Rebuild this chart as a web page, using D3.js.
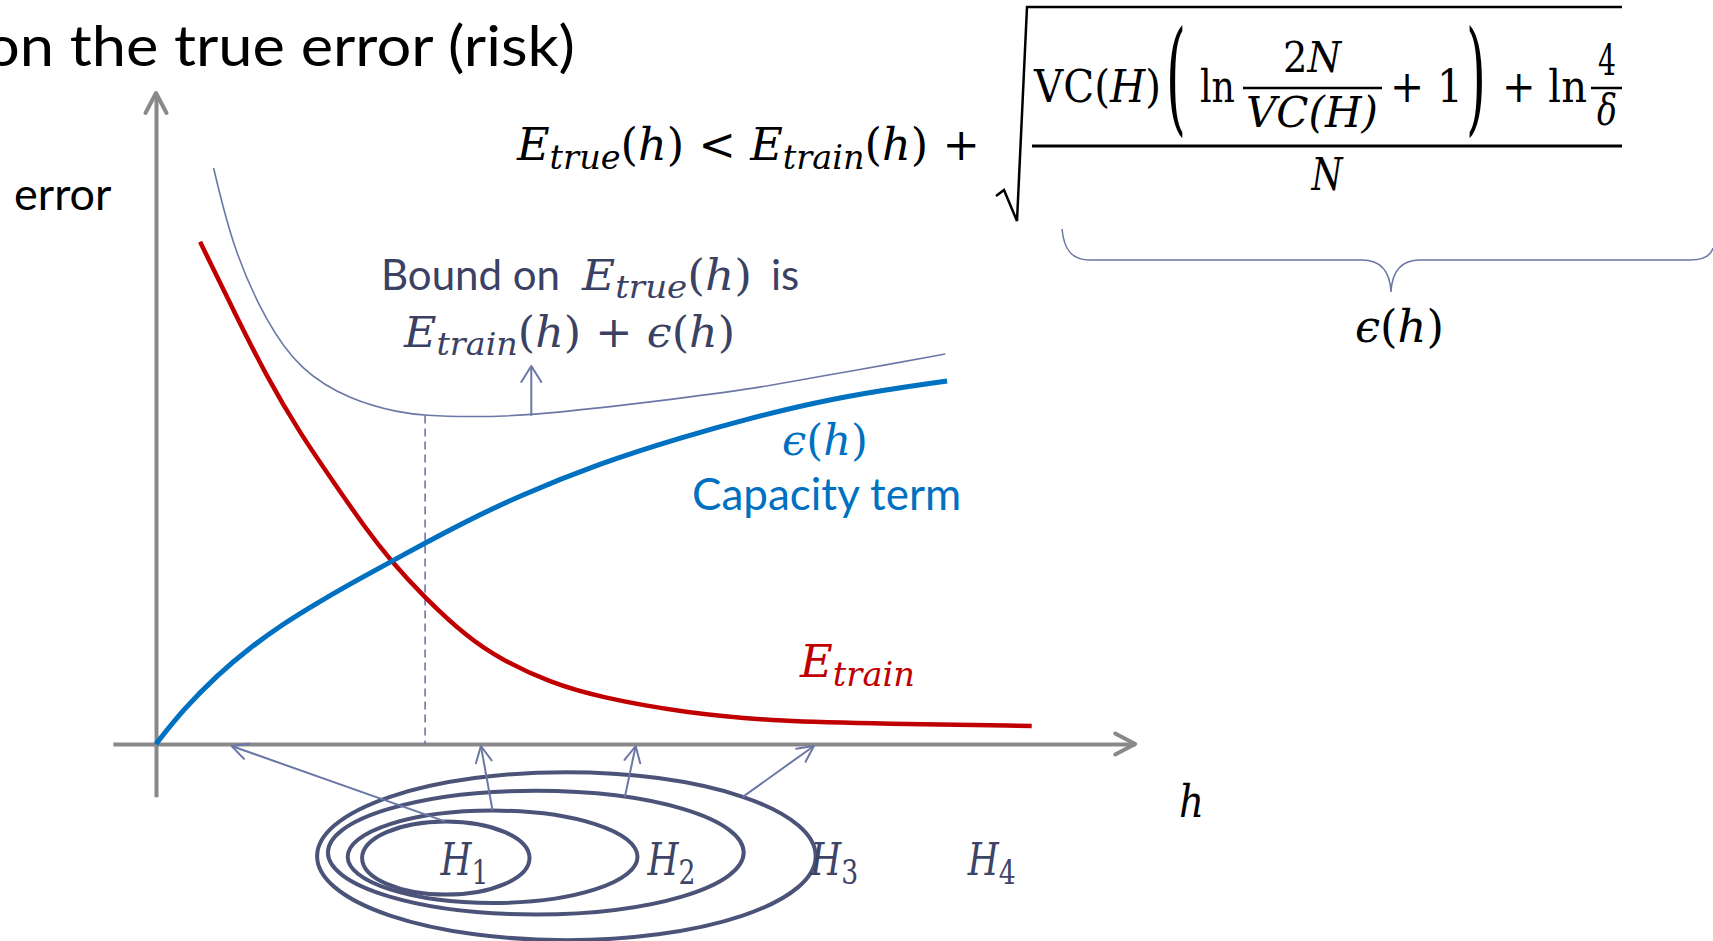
<!DOCTYPE html>
<html>
<head>
<meta charset="utf-8">
<script src="https://cdn.jsdelivr.net/npm/d3@7"></script>
<style>
  body { margin: 0; background: #fff; overflow: hidden; }
</style>
</head>
<body>
<div id="chart"></div>
<script>
'use strict';

// curves: [h, error]
const capacity = [[0, 0], [3, 5.7], [6.8, 11.5], [10.4, 16], [14.1, 20], [17.9, 23.5], [21.6, 26.7], [26, 30.3],
    [29.9, 33.5], [34.6, 37.2], [40.1, 41.2], [49.3, 46.8], [58.6, 51.2], [66, 54.3], [73.4, 57], [80.8, 59], [87.9, 60.5]];
const trainErr = [[4.9, 83.7], [8.6, 72.3], [12.3, 61.2], [16, 51.8], [19.7, 43.7], [23.4, 35.7], [26, 30.7], [29.9, 24.3],
    [34.6, 17.8], [38.2, 14.2], [43.8, 10.2], [49.3, 7.8], [58.6, 5.2], [69.7, 3.7], [80.8, 3.4], [97.3, 3]];
const bound = [[6.4, 96], [8.6, 82.3], [12.3, 70.2], [16, 62.3], [21.6, 57.3], [27.1, 55.2], [29.9, 54.75], [34.6, 54.5],
    [41.6, 54.7], [53.8, 56.8], [58.6, 57.7], [67.6, 59.5], [73.4, 61.2], [76.8, 62], [87.7, 65]];
const bestH = 29.9;
const boundArrowH = 41.7;
const boundArrowTip = 63;

// nested hypothesis sets H1 ⊂ H2 ⊂ H3 ⊂ H4 drawn under the h axis
const hypNames = ['1', '2', '3', '4'];
const hypCx = [32.2, 37.4, 42.2, 45.6];
const hypCy = [-19, -18.8, -18.1, -18.7];
const hypRx = [9.3, 16.1, 23.1, 27.7];
const hypRy = [6.1, 7.7, 10.3, 14];
const hypLabelH = [31.6, 54.6, 72.7, 90.2];
const hypLabelErr = -21.8;
const hypArrowFrom = [32.1, 37.4, 52.1, 65.2];
const hypArrowTo = [8.4, 36.1, 53.3, 73.1];

const W = 1713, H = 941;
const SANS = 'Lato, "Open Sans", sans-serif';
const SERIF = '"DejaVu Serif", "Liberation Serif", serif';
const SLATE = '#6b77a5', INK = '#3b4162', BLUE = '#0070c0', RED = '#c00000', AXIS = '#898989';

const svg = d3.select('#chart').append('svg')
    .attr('width', W)
    .attr('height', H);

const x = d3.scaleLinear().domain([0, 100]).range([156, 1056]);
const y = d3.scaleLinear().domain([0, 100]).range([744, 144]);

const line = d3.line()
    .x(function (d) { return x(d[0]); })
    .y(function (d) { return y(d[1]); })
    .curve(d3.curveBasis);

function chevron(g, tx, ty, ang, len, half, color, w) {
    const ux = Math.cos(ang), uy = Math.sin(ang);
    const p1 = [tx - ux * len - uy * half, ty - uy * len + ux * half];
    const p2 = [tx - ux * len + uy * half, ty - uy * len - ux * half];
    g.append('path')
        .attr('d', 'M' + p1 + 'L' + [tx, ty] + 'L' + p2)
        .style('fill', 'none').style('stroke', color).style('stroke-width', w)
        .style('stroke-linejoin', 'round').style('stroke-linecap', 'round');
}

function arrow(g, x1, y1, x2, y2, color, w, len, half) {
    g.append('line').attr('x1', x1).attr('y1', y1).attr('x2', x2).attr('y2', y2)
        .style('stroke', color).style('stroke-width', w);
    chevron(g, x2, y2, Math.atan2(y2 - y1, x2 - x1), len, half, color, w);
}

// math text: parts are [string, kind]; i italic, r upright, s italic subscript, sr upright subscript
function math(g, px, py, parts, fs, len, color, anchor) {
    const t = g.append('text')
        .attr('x', px).attr('y', py)
        .style('font-family', SERIF).style('font-size', fs + 'px')
        .style('fill', color || '#000');
    if (anchor) t.attr('text-anchor', anchor);
    let shift = 0;
    parts.forEach(function (p) {
        const sp = t.append('tspan').text(p[0]);
        const sub = p[1] === 's' || p[1] === 'sr';
        const target = sub ? fs * 0.2 : 0;
        if (target !== shift) { sp.attr('dy', target - shift); shift = target; }
        if (sub) sp.style('font-size', (fs * 0.75) + 'px');
        sp.style('font-style', (p[1] === 'r' || p[1] === 'sr') ? 'normal' : 'italic');
    });
    if (len) t.attr('textLength', len).attr('lengthAdjust', 'spacingAndGlyphs');
    return t;
}

function sans(g, px, py, s, fs, color, anchor) {
    return g.append('text').attr('x', px).attr('y', py)
        .attr('text-anchor', anchor || 'start')
        .style('font-family', SANS).style('font-size', fs + 'px')
        .style('fill', color || '#000').text(s);
}

const g = svg.append('g');

// title (cut by the slide edge) and y label
sans(g, 575, 66, 'on the true error (risk)', 56, '#000', 'end')
    .attr('textLength', 590).attr('lengthAdjust', 'spacingAndGlyphs');
sans(g, 14, 210, 'error', 45);

// axes
const xAxisScale = d3.scaleLinear().domain([-4.8, 108.8]).range([x(-4.8), x(108.8)]);
const yAxisScale = d3.scaleLinear().domain([-8.8, 108.5]).range([y(-8.8), y(108.5)]);

g.append('g')
    .attr('transform', 'translate(0,' + y(0) + ')')
    .call(d3.axisBottom(xAxisScale).tickValues([]).tickSizeOuter(0))
    .select('.domain').style('stroke', AXIS).style('stroke-width', '4px');
g.append('g')
    .attr('transform', 'translate(' + x(0) + ',0)')
    .call(d3.axisLeft(yAxisScale).tickValues([]).tickSizeOuter(0))
    .select('.domain').style('stroke', AXIS).style('stroke-width', '4px');
chevron(g, x(108.8), y(0), 0, 20, 10.5, AXIS, 4);
chevron(g, x(0), y(108.5), -Math.PI / 2, 20, 10.5, AXIS, 4);

// dashed line at the minimum of the bound
g.append('line')
    .attr('x1', x(bestH)).attr('x2', x(bestH))
    .attr('y1', y(54.75)).attr('y2', y(0))
    .style('stroke', SLATE).style('stroke-width', 1.6)
    .style('stroke-dasharray', '8,5');

// curves
g.append('path').datum(bound).attr('d', line)
    .style('fill', 'none').style('stroke', SLATE).style('stroke-width', '1.6px');
g.append('path').datum(trainErr).attr('d', line)
    .style('fill', 'none').style('stroke', RED).style('stroke-width', '4.5px');
g.append('path').datum(capacity).attr('d', line)
    .style('fill', 'none').style('stroke', BLUE).style('stroke-width', '5px');

arrow(g, x(boundArrowH), y(54.7), x(boundArrowH), y(boundArrowTip), SLATE, 2, 16, 10);

// curve labels
sans(g, 381, 290, 'Bound on', 42, INK);
math(g, 582, 290, [['E', 'i'], ['true', 's'], ['(', 'r'], ['h', 'i'], [')', 'r']], 42, 170, INK);
sans(g, 771, 290, 'is', 42, INK);
math(g, 404, 347, [['E', 'i'], ['train', 's'], ['(', 'r'], ['h', 'i'], [') + ', 'r'], ['ϵ', 'i'], ['(', 'r'], ['h', 'i'], [')', 'r']], 42, 331, INK);

math(g, 782, 455, [['ϵ', 'i'], ['(', 'r'], ['h', 'i'], [')', 'r']], 42, 86, BLUE);
sans(g, 692, 510, 'Capacity term', 44, BLUE);
math(g, 800, 677, [['E', 'i'], ['train', 's']], 44, 115, RED);

math(g, 1179, 817, [['h', 'i']], 44, 25, '#000');

// hypothesis sets
const hyp = g.append('g');
const ell = hypNames.map(function (n, i) {
    return { cx: x(hypCx[i]), cy: y(hypCy[i]), rx: x(hypRx[i]) - x(0), ry: y(0) - y(hypRy[i]) };
});
hyp.selectAll('ellipse').data(ell).enter().append('ellipse')
    .attr('cx', function (d) { return d.cx; })
    .attr('cy', function (d) { return d.cy; })
    .attr('rx', function (d) { return d.rx; })
    .attr('ry', function (d) { return d.ry; })
    .style('fill', 'none').style('stroke', '#4c5378').style('stroke-width', '4px');

ell.forEach(function (e, i) {
    const sx = x(hypArrowFrom[i]);
    const k = (sx - e.cx) / e.rx;
    const sy = e.cy - e.ry * Math.sqrt(Math.max(0, 1 - k * k));
    arrow(hyp, sx, sy, x(hypArrowTo[i]), y(0) + 2, SLATE, 2, 16, 8);
});

hypNames.forEach(function (n, i) {
    math(hyp, x(hypLabelH[i]), y(hypLabelErr), [['H', 'i'], [n, 'sr']], 44, 48, '#3d4466');
});

// the VC bound formula
const f = svg.append('g');
math(f, 517, 160, [['E', 'i'], ['true', 's'], ['(', 'r'], ['h', 'i'], [') < ', 'r'], ['E', 'i'], ['train', 's'],
    ['(', 'r'], ['h', 'i'], [') +', 'r']], 44, 463);
f.append('path')
    .attr('d', 'M996,196 L1004,190 L1017,221 L1027,7 H1622')
    .style('fill', 'none').style('stroke', '#000').style('stroke-width', 2.5).style('stroke-linejoin', 'miter');
math(f, 1034, 102, [['VC(', 'r'], ['H', 'i'], [')', 'r']], 44, 127);
math(f, 1166, 119, [['(', 'r']], 124, 20);
math(f, 1200, 102, [['ln', 'r']], 44, 35);
math(f, 1312, 72, [['2', 'r'], ['N', 'i']], 42, 58, '#000', 'middle');
f.append('line').attr('x1', 1243).attr('x2', 1382).attr('y1', 88).attr('y2', 88)
    .style('stroke', '#000').style('stroke-width', 2.5);
math(f, 1312, 127, [['VC(H)', 'i']], 42, 132, '#000', 'middle');
math(f, 1390, 102, [['+ 1', 'r']], 44, 73);
math(f, 1466, 119, [[')', 'r']], 124, 20);
math(f, 1502, 102, [['+ ln', 'r']], 44, 85);
math(f, 1607, 75, [['4', 'r']], 42, 18, '#000', 'middle');
f.append('line').attr('x1', 1591).attr('x2', 1622).attr('y1', 88).attr('y2', 88)
    .style('stroke', '#000').style('stroke-width', 2.5);
math(f, 1607, 125, [['δ', 'i']], 42, 20, '#000', 'middle');
f.append('line').attr('x1', 1032).attr('x2', 1622).attr('y1', 146).attr('y2', 146)
    .style('stroke', '#000').style('stroke-width', 3);
math(f, 1327, 190, [['N', 'i']], 44, 31, '#000', 'middle');

f.append('path')
    .attr('d', 'M1062,229 C1064,250 1072,260 1090,260 L1362,260 C1382,260 1390,272 1391,292 ' +
        'C1392,272 1400,260 1420,260 L1690,260 C1705,260 1711,255 1713,248')
    .style('fill', 'none').style('stroke', SLATE).style('stroke-width', 1.5);
math(f, 1355, 342, [['ϵ', 'i'], ['(', 'r'], ['h', 'i'], [')', 'r']], 44, 89);
</script>
</body>
</html>
